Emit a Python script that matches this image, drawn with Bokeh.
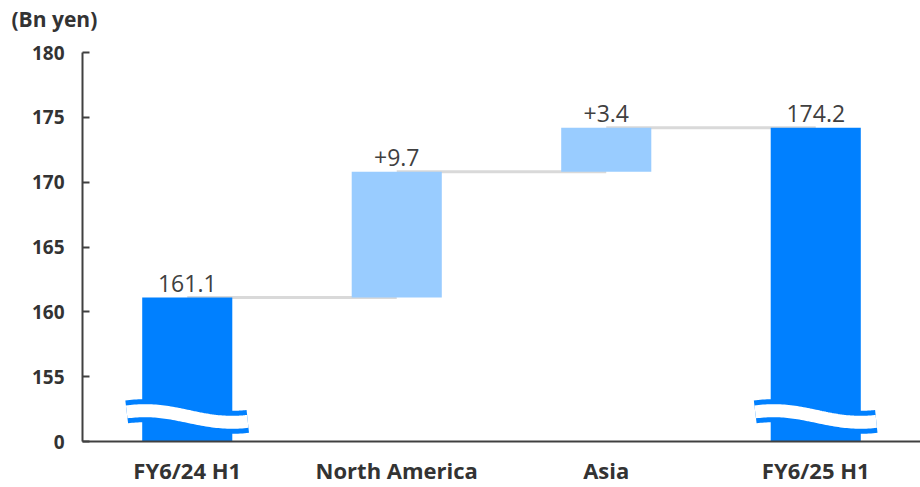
import numpy as np
from bokeh.plotting import figure
from bokeh.models import ColumnDataSource, FixedTicker, Range1d, FactorRange, Label
from bokeh.core.properties import value
from bokeh.embed import file_html
from bokeh.resources import INLINE

# ---- data (Bn yen) ----
categories = ["FY6/24 H1", "North America", "Asia", "FY6/25 H1"]
start_total = 161.1
changes = [9.7, 3.4]
end_total = 174.2
value_labels = ["161.1", "+9.7", "+3.4", "174.2"]

y_ticks = [150, 155, 160, 165, 170, 175, 180]
y_tick_labels = {150: "0"}       # broken axis: the baseline stands for zero
axis_floor = 150                 # value drawn at the broken baseline
break_level = 151.93             # where the break symbol sits on the total bars

DARK_BLUE = "#0080FF"
LIGHT_BLUE = "#99CCFF"
TEXT = "#333333"
FONT = "Open Sans"

# waterfall geometry
bottoms, tops = [], []
bottoms.append(axis_floor)
tops.append(start_total)
level = start_total
for c in changes:
    bottoms.append(level)
    level += c
    tops.append(level)
bottoms.append(axis_floor)
tops.append(end_total)
colors = [DARK_BLUE, LIGHT_BLUE, LIGHT_BLUE, DARK_BLUE]

src = ColumnDataSource(dict(x=categories, bottom=bottoms, top=tops,
                            color=colors, label=value_labels))

p = figure(x_range=FactorRange(*categories), y_range=Range1d(axis_floor, 180),
           width=920, height=487, output_backend="svg", toolbar_location=None,
           min_border_left=82, min_border_right=0, min_border_top=52,
           min_border_bottom=46)
p.outline_line_color = None
p.xgrid.grid_line_color = None
p.ygrid.grid_line_color = None
p.background_fill_color = "white"
p.border_fill_color = "white"

# connector lines between consecutive bar tops
p.segment(x0=categories[:-1], x1=categories[1:], y0=tops[:-1], y1=tops[:-1],
          line_color="#D9D9D9", line_width=3)

BAR_W = 0.43
p.vbar(x="x", bottom="bottom", top="top", width=BAR_W, fill_color="color",
       line_color=None, source=src)

# break symbol (wavy band) across the two total bars
half = 0.289
t = np.linspace(0, 1, 60)
amp = 0.447
wave_y = break_level + amp * np.cos(np.pi * (t - 0.15) / 0.72)
xs, ys = [], []
for i in (0, 3):
    xs.append(list(i + 0.5 - half + 2 * half * t))
    ys.append(list(wave_y))
p.multi_line(xs=xs, ys=ys, line_color=DARK_BLUE, line_width=23, line_cap="butt")
p.multi_line(xs=xs, ys=ys, line_color="white", line_width=13, line_cap="butt")

# value labels above each bar
p.text(x="x", y="top", text="label", source=src, text_align="center",
       text_baseline="alphabetic", y_offset=-14, text_font=value(FONT),
       text_font_size="23px", text_color="#404040")

# y axis
ya = p.yaxis[0]
ya.ticker = FixedTicker(ticks=y_ticks)
ya.major_label_overrides = y_tick_labels
ya.axis_line_color = "#404040"
ya.axis_line_width = 2
ya.major_tick_line_color = "#404040"
ya.major_tick_line_width = 2
ya.major_tick_in = 7
ya.major_tick_out = 0
ya.minor_tick_line_color = None
ya.major_label_standoff = 18
ya.major_label_text_font = FONT
ya.major_label_text_font_style = "bold"
ya.major_label_text_font_size = "19px"
ya.major_label_text_color = TEXT

# x axis
xa = p.xaxis[0]
xa.axis_line_color = "#404040"
xa.axis_line_width = 2
xa.major_tick_line_color = None
xa.minor_tick_line_color = None
xa.major_tick_out = 0
xa.major_tick_in = 0
xa.major_label_standoff = 13
xa.major_label_text_font = FONT
xa.major_label_text_font_style = "bold"
xa.major_label_text_font_size = "22px"
xa.major_label_text_color = TEXT

# unit caption in the top border, left of the plot area
p.add_layout(Label(x=-71, y=20, x_units="screen", y_units="screen",
                   text="(Bn yen)", text_baseline="bottom", text_align="left",
                   text_font=FONT, text_font_style="bold", text_font_size="21px",
                   text_color=TEXT), "above")

open("out.html", "w").write(file_html(p, INLINE))
